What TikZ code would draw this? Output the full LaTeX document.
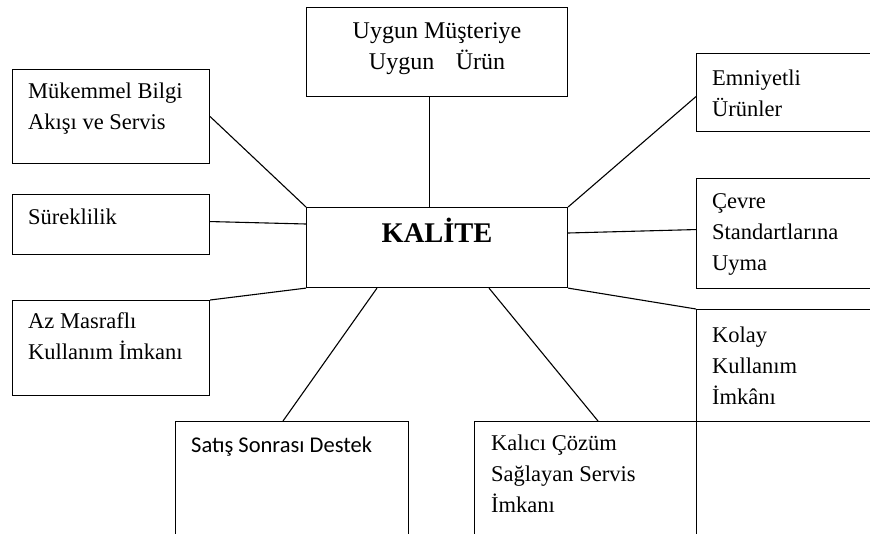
\documentclass[tikz,border=0pt]{standalone}
\usepackage{fontspec}
\setmainfont{Liberation Serif}
\newfontfamily\calibrifont{Carlito}
\usepackage{tikz}
\usetikzlibrary{positioning}

\newcommand{\ust}{\rule{0pt}{20pt}}

\begin{document}
\begin{tikzpicture}[x=1pt, y=-1pt,
        kutu/.style={draw, line width=1.1pt, inner sep=0pt, anchor=north west},
        yazi/.style={inner sep=0pt, align=left, font=\fontsize{22.5}{31}\selectfont},
        bag/.style={line width=1.1pt}]
        \useasboundingbox (0,0) rectangle (870,533);
        \clip (0,0) rectangle (870,533);
        % kutular
        \node[kutu, minimum width=261pt, minimum height=89pt] (uygun) at (306,7) {};
        \node[kutu, minimum width=261pt, minimum height=80pt] (kalite) at (306,207) {};
        \node[kutu, minimum width=197pt, minimum height=94pt] (mukemmel) at (12,69) {};
        \node[kutu, minimum width=197pt, minimum height=60pt] (surek) at (12,194) {};
        \node[kutu, minimum width=197pt, minimum height=95pt] (azmas) at (12,300) {};
        \node[kutu, minimum width=200pt, minimum height=78pt] (emniyet) at (696,53) {};
        \node[kutu, minimum width=200pt, minimum height=110pt] (cevre) at (696,178) {};
        \node[kutu, minimum width=200pt, minimum height=112pt] (kolay) at (696,309) {};
        \node[kutu, minimum width=233pt, minimum height=140pt] (satis) at (175,421) {};
        \node[kutu, minimum width=222pt, minimum height=140pt] (kalici) at (474,421) {};
        % yazilar
        \node[inner sep=0pt, align=center, font=\fontsize{24}{31}\selectfont, below=11pt of uygun.north] (uygunyazi) {\ust Uygun Müşteriye\\Uygun\hspace{0.9em}Ürün};
        \node[inner sep=0pt, font=\fontsize{28.5}{31}\selectfont\bfseries, below=10pt of kalite.north] (kaliteyazi) {\rule{0pt}{25pt}KALİTE};
        \node[yazi, below right=9pt and 16pt of mukemmel.north west] (mukemmelyazi) {\ust Mükemmel Bilgi\\Akışı ve Servis};
        \node[yazi, below right=10pt and 16pt of surek.north west] (surekyazi) {\ust Süreklilik};
        \node[yazi, below right=8pt and 16pt of azmas.north west] (azmasyazi) {\ust Az Masraflı\\Kullanım İmkanı};
        \node[yazi, below right=12pt and 16pt of emniyet.north west] (emniyetyazi) {\ust Emniyetli\\Ürünler};
        \node[yazi, below right=10pt and 16pt of cevre.north west] (cevreyazi) {\ust Çevre\\Standartlarına\\Uyma};
        \node[yazi, below right=13pt and 16pt of kolay.north west] (kolayyazi) {\ust Kolay\\Kullanım\\İmkânı};
        \node[yazi, font=\fontsize{22.5}{31}\selectfont\calibrifont, below right=11pt and 16pt of satis.north west] (satisyazi) {\ust Satış Sonrası Destek};
        \node[yazi, below right=9pt and 17pt of kalici.north west] (kaliciyazi) {\ust Kalıcı Çözüm\\Sağlayan Servis\\İmkanı};
        % baglantilar
        \draw[bag] ([xshift=-7.5pt]uygun.south) -- ([xshift=-7.5pt]kalite.north);
        \draw[bag] (mukemmel.east) -- (kalite.north west);
        \draw[bag] ([yshift=-4pt]emniyet.west) -- (kalite.north east);
        \draw[bag] ([yshift=3pt]surek.east) -- ([yshift=-17pt]kalite.north west);
        \draw[bag] ([yshift=-26pt]kalite.north east) -- ([yshift=4pt]cevre.west);
        \draw[bag] (azmas.north east) -- (kalite.south west);
        \draw[bag] (kalite.south east) -- (kolay.north west);
        \draw[bag] ([xshift=71pt]kalite.south west) -- ([xshift=108pt]satis.north west);
        \draw[bag] ([xshift=183pt]kalite.south west) -- ([xshift=124pt]kalici.north west);
    \end{tikzpicture}
\end{document}
